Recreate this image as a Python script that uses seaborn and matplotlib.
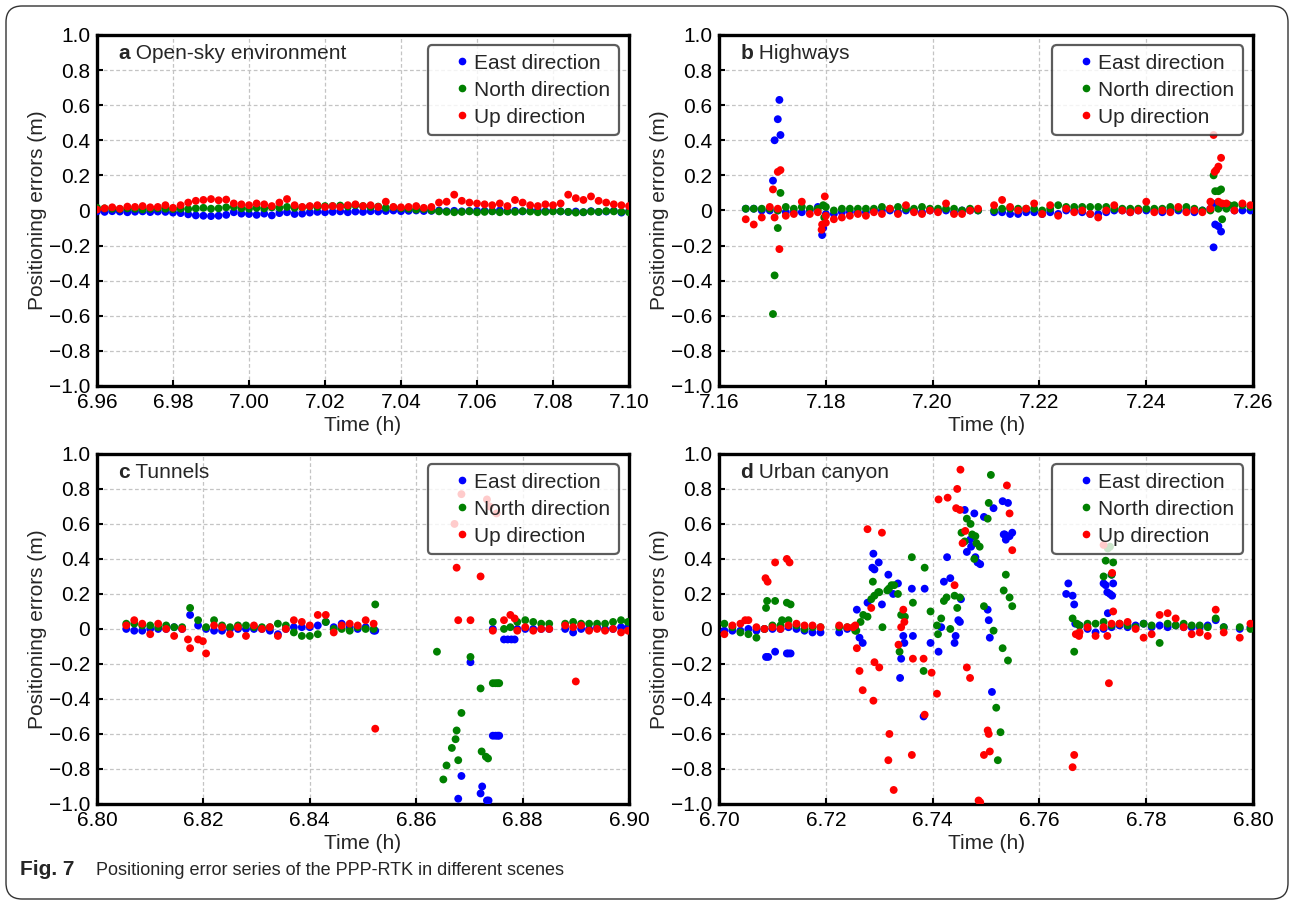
import pandas as pd
import seaborn as sns
import matplotlib.pyplot as plt
from matplotlib.lines import Line2D
from matplotlib.patches import FancyBboxPatch

sns.set_style('white')
plt.rcParams['font.family'] = ['Liberation Sans', 'DejaVu Sans']

DIRECTIONS = ['East direction', 'North direction', 'Up direction']
COLORS = {'East direction': '#0000ff', 'North direction': '#008000', 'Up direction': '#ff0000'}

YTICKS = [-1.0, -0.8, -0.6, -0.4, -0.2, 0.0, 0.2, 0.4, 0.6, 0.8, 1.0]
YTICKLABELS = ['\u22121.0', '\u22120.8', '\u22120.6', '\u22120.4', '\u22120.2', '0',
               '0.2', '0.4', '0.6', '0.8', '1.0']

# ---- a: open-sky environment ----
A_XTICKS = [6.96, 6.98, 7.00, 7.02, 7.04, 7.06, 7.08, 7.10]
A_T = [6.960, 6.962, 6.964, 6.966, 6.968, 6.970, 6.972, 6.974, 6.976, 6.978, 6.980,
       6.982, 6.984, 6.986, 6.988, 6.990, 6.992, 6.994, 6.996, 6.998,
       7.000, 7.002, 7.004, 7.006, 7.008, 7.010, 7.012, 7.014, 7.016, 7.018, 7.020,
       7.022, 7.024, 7.026, 7.028, 7.030, 7.032, 7.034, 7.036, 7.038, 7.040,
       7.042, 7.044, 7.046, 7.048, 7.050, 7.052, 7.054, 7.056, 7.058, 7.060,
       7.062, 7.064, 7.066, 7.068, 7.070, 7.072, 7.074, 7.076, 7.078, 7.080,
       7.082, 7.084, 7.086, 7.088, 7.090, 7.092, 7.094, 7.096, 7.098, 7.100]
A_E = [-0.005, -0.008, -0.004, -0.006, -0.010, -0.007, -0.005, -0.009, -0.006, -0.008, -0.012,
       -0.015, -0.022, -0.028, -0.030, -0.032, -0.030, -0.025, -0.010, -0.018,
       -0.020, -0.025, -0.018, -0.028, -0.015, -0.010, -0.020, -0.018, -0.012, -0.008, -0.010,
       -0.008, -0.005, -0.010, -0.006, -0.008, -0.004, -0.006, -0.003, 0.000, -0.004,
       -0.002, 0.000, -0.003, -0.002, 0.000, -0.004, -0.002, -0.005, -0.003, -0.002,
       -0.002, -0.004, 0.000, -0.003, -0.002, -0.005, -0.002, 0.000, -0.004, -0.003,
       -0.005, -0.008, -0.006, -0.010, -0.004, -0.008, -0.006, -0.002, -0.012, -0.005]
A_N = [0.015, 0.012, 0.010, 0.008, 0.012, 0.010, 0.006, 0.009, 0.012, 0.010, 0.008,
       0.010, 0.008, 0.012, 0.015, 0.010, 0.012, 0.018, 0.020, 0.012,
       0.010, 0.015, 0.012, 0.018, 0.015, 0.020, 0.015, 0.018, 0.022, 0.020, 0.025,
       0.025, 0.028, 0.022, 0.030, 0.025, 0.020, 0.022, 0.015, 0.018, 0.012,
       0.010, 0.005, 0.008, 0.000, -0.005, -0.008, -0.010, -0.008, -0.005, -0.010,
       -0.008, -0.005, -0.010, -0.006, -0.008, -0.004, -0.006, -0.010, -0.008, -0.005,
       -0.005, -0.008, -0.012, -0.010, -0.006, -0.008, -0.004, -0.005, -0.008, -0.010]
A_U = [0.005, 0.012, 0.018, 0.010, 0.022, 0.020, 0.025, 0.018, 0.020, 0.030, 0.015,
       0.030, 0.045, 0.055, 0.060, 0.065, 0.058, 0.062, 0.040, 0.035,
       0.030, 0.040, 0.035, 0.025, 0.045, 0.065, 0.030, 0.020, 0.025, 0.030, 0.020,
       0.025, 0.020, 0.030, 0.035, 0.025, 0.030, 0.020, 0.050, 0.020, 0.018,
       0.020, 0.025, 0.015, 0.020, 0.045, 0.050, 0.090, 0.055, 0.045, 0.040,
       0.035, 0.030, 0.040, 0.025, 0.060, 0.045, 0.030, 0.025, 0.035, 0.030,
       0.040, 0.090, 0.070, 0.060, 0.080, 0.055, 0.045, 0.035, 0.030, 0.025]

# ---- b: highways ----
B_XTICKS = [7.16, 7.18, 7.20, 7.22, 7.24, 7.26]
B_T = [7.1650, 7.1665, 7.1680, 7.1695, 7.1710, 7.1725, 7.1740, 7.1755, 7.1770, 7.1785,
       7.1800, 7.1815, 7.1830, 7.1845, 7.1860, 7.1875, 7.1890, 7.1905, 7.1920, 7.1935,
       7.1950, 7.1965, 7.1980, 7.1995, 7.2010, 7.2025, 7.2040, 7.2055, 7.2070, 7.2085,
       7.2115, 7.2130, 7.2145, 7.2160, 7.2175, 7.2190, 7.2205, 7.2220, 7.2235, 7.2250,
       7.2265, 7.2280, 7.2295, 7.2310, 7.2325, 7.2340, 7.2355, 7.2370, 7.2385, 7.2400,
       7.2415, 7.2430, 7.2445, 7.2460, 7.2475, 7.2490, 7.2505, 7.2520, 7.2535, 7.2550,
       7.2565, 7.2580, 7.2595]
B_E = [0.01, 0.01, 0.00, 0.00, 0.00, -0.01, -0.01, -0.01, 0.00, 0.02,
       -0.02, -0.02, -0.01, -0.01, -0.01, -0.01, 0.00, 0.00, 0.00, -0.01,
       0.00, 0.00, -0.01, 0.00, 0.00, 0.00, -0.01, 0.00, 0.00, 0.00,
       -0.01, -0.01, -0.02, -0.02, -0.01, -0.01, -0.02, -0.01, -0.02, 0.00,
       0.00, -0.01, -0.02, -0.02, -0.01, 0.00, 0.00, -0.01, 0.00, 0.00,
       0.00, -0.01, 0.00, 0.00, 0.00, -0.01, 0.00, 0.01, 0.02, 0.03,
       0.00, 0.00, 0.00]
B_N = [0.01, 0.01, 0.01, 0.01, 0.00, 0.02, 0.01, 0.02, 0.01, 0.01,
       0.02, 0.00, 0.01, 0.01, 0.01, 0.01, 0.01, 0.02, 0.01, 0.02,
       0.01, 0.01, 0.02, 0.01, 0.01, 0.01, 0.01, 0.00, 0.01, 0.00,
       0.00, 0.01, 0.01, 0.01, 0.01, 0.01, 0.00, 0.01, 0.03, 0.02,
       0.02, 0.02, 0.02, 0.02, 0.02, 0.01, 0.01, 0.01, 0.01, 0.01,
       0.01, 0.01, 0.02, 0.01, 0.02, 0.01, 0.00, 0.00, 0.01, 0.01,
       0.03, 0.03, 0.02]
B_U = [-0.05, -0.08, -0.04, 0.02, 0.01, -0.03, -0.02, 0.05, -0.02, -0.01,
       -0.03, -0.05, -0.04, -0.03, -0.02, -0.03, -0.01, -0.02, 0.01, -0.02,
       0.03, -0.01, -0.02, 0.00, -0.01, 0.04, -0.02, -0.02, 0.00, 0.01,
       0.03, 0.06, 0.02, 0.00, 0.01, 0.04, -0.02, 0.03, -0.03, 0.01,
       -0.01, 0.00, -0.02, -0.04, 0.00, 0.03, 0.00, -0.01, 0.00, 0.05,
       -0.01, 0.00, -0.01, 0.02, -0.01, 0.00, -0.01, 0.01, 0.05, 0.04,
       0.00, 0.04, 0.03]
B_E_OUT = [(7.1701, 0.17), (7.1704, 0.40), (7.1710, 0.52), (7.1713, 0.63), (7.1715, 0.43),
           (7.1793, -0.14), (7.1795, -0.10), (7.2524, 0.04), (7.2526, -0.21), (7.2529, -0.08),
           (7.2535, -0.09), (7.2540, -0.12), (7.2542, 0.03)]
B_N_OUT = [(7.1715, 0.10), (7.1710, -0.10), (7.1704, -0.37), (7.1701, -0.59), (7.1797, -0.04),
           (7.1795, 0.03), (7.2526, 0.20), (7.2529, 0.11), (7.2535, 0.11), (7.2540, 0.12),
           (7.2542, -0.05), (7.2555, 0.03)]
B_U_OUT = [(7.1710, 0.22), (7.1715, 0.23), (7.1701, 0.12), (7.1704, -0.04), (7.1713, -0.22),
           (7.1792, -0.11), (7.1793, -0.08), (7.1798, 0.08), (7.1800, -0.07), (7.2526, 0.43),
           (7.2540, 0.30), (7.2535, 0.25), (7.2531, 0.23), (7.2528, 0.22), (7.2520, 0.05),
           (7.2542, 0.04)]

# ---- c: tunnels ----
C_XTICKS = [6.80, 6.82, 6.84, 6.86, 6.88, 6.90]
C_T = [6.8055, 6.8070, 6.8085, 6.8100, 6.8115, 6.8130, 6.8145, 6.8160, 6.8175, 6.8190,
       6.8205, 6.8220, 6.8235, 6.8250, 6.8265, 6.8280, 6.8295, 6.8310, 6.8325, 6.8340,
       6.8355, 6.8370, 6.8385, 6.8400, 6.8415, 6.8430, 6.8445, 6.8460, 6.8475, 6.8490,
       6.8505, 6.8520,
       6.8790, 6.8805, 6.8820, 6.8835, 6.8850, 6.8880, 6.8895, 6.8910, 6.8925, 6.8940,
       6.8955, 6.8970, 6.8985, 6.8998]
C_E = [0.00, -0.01, -0.01, 0.00, 0.00, 0.00, 0.01, 0.00, 0.08, 0.02,
       0.00, -0.01, -0.01, 0.00, 0.00, 0.00, 0.00, 0.00, -0.01, -0.03,
       0.00, 0.01, 0.01, 0.01, 0.02, 0.04, 0.01, 0.03, 0.01, 0.00,
       0.01, -0.01,
       0.00, 0.00, 0.00, 0.00, 0.00, 0.00, -0.02, 0.00, 0.00, 0.01,
       0.00, 0.00, 0.01, 0.01]
C_N = [0.03, 0.03, 0.02, 0.02, 0.01, 0.02, 0.01, 0.01, 0.12, 0.05,
       0.01, 0.05, 0.02, 0.01, 0.02, 0.02, 0.01, 0.01, 0.01, 0.03,
       0.02, -0.02, -0.04, -0.04, -0.03, 0.04, 0.00, 0.00, -0.01, 0.01,
       0.00, 0.00,
       0.04, 0.05, 0.04, 0.03, 0.03, 0.03, 0.04, 0.03, 0.03, 0.03,
       0.03, 0.04, 0.05, 0.04]
C_U = [0.02, 0.05, 0.03, -0.03, 0.03, 0.00, -0.04, 0.00, -0.11, -0.06,
       -0.14, 0.02, 0.01, -0.03, 0.01, -0.04, 0.02, 0.00, 0.01, -0.04,
       0.00, 0.05, 0.04, 0.02, 0.08, 0.08, -0.02, 0.02, 0.03, 0.02,
       0.05, 0.03,
       -0.01, 0.01, -0.01, 0.00, 0.00, 0.02, 0.01, 0.02, -0.01, 0.00,
       -0.01, 0.00, -0.02, -0.01]
C_E_OUT = [(6.8679, -0.97), (6.8685, -0.84), (6.8702, -0.19), (6.8721, -0.94), (6.8724, -0.90),
           (6.8733, -0.98), (6.8736, -0.98), (6.8744, -0.61), (6.8749, -0.61), (6.8753, -0.61),
           (6.8756, -0.61), (6.8744, 0.00), (6.8765, -0.06), (6.8772, -0.06), (6.8779, -0.06),
           (6.8785, -0.06), (6.8523, -0.01)]
C_N_OUT = [(6.8639, -0.13), (6.8651, -0.86), (6.8657, -0.78), (6.8667, -0.68), (6.8674, -0.63),
           (6.8676, -0.58), (6.8679, -0.75), (6.8685, -0.48), (6.8702, -0.16), (6.8721, -0.34),
           (6.8723, -0.70), (6.8731, -0.73), (6.8735, -0.74), (6.8744, -0.31), (6.8749, -0.31),
           (6.8753, -0.31), (6.8756, -0.31), (6.8744, 0.04), (6.8765, 0.00), (6.8777, 0.01),
           (6.8523, 0.14)]
C_U_OUT = [(6.8523, -0.57), (6.8676, 0.35), (6.8679, 0.05), (6.8702, 0.05), (6.8721, 0.30),
           (6.8685, 0.77), (6.8672, 0.60), (6.8733, 0.74), (6.8738, 0.70), (6.8751, 0.66),
           (6.8744, -0.01), (6.8765, 0.05), (6.8777, 0.08), (6.8785, 0.06), (6.8900, -0.30),
           (6.8171, -0.06), (6.8199, -0.07)]

# ---- d: urban canyon ----
D_XTICKS = [6.70, 6.72, 6.74, 6.76, 6.78, 6.80]
D_T = [6.7010, 6.7025, 6.7040, 6.7055, 6.7070, 6.7085, 6.7100, 6.7115, 6.7130, 6.7145,
       6.7160, 6.7175, 6.7190, 6.7225, 6.7240, 6.7255,
       6.7675, 6.7690, 6.7705, 6.7720, 6.7735, 6.7750, 6.7765, 6.7780, 6.7795, 6.7810,
       6.7825, 6.7840, 6.7855, 6.7870, 6.7885, 6.7900, 6.7915, 6.7930, 6.7945, 6.7975,
       6.7995]
D_E = [-0.01, -0.01, -0.01, 0.00, -0.01, 0.00, 0.00, 0.00, 0.01, 0.00,
       -0.01, -0.02, -0.02, -0.02, 0.00, 0.00,
       0.02, 0.00, -0.02, 0.00, 0.01, 0.02, 0.01, 0.02, 0.03, 0.01,
       0.02, 0.01, 0.02, 0.01, 0.01, 0.01, 0.02, 0.05, 0.01, 0.00,
       0.01]
D_N = [0.03, 0.01, -0.02, -0.03, -0.05, 0.00, 0.02, 0.02, 0.05, 0.02,
       0.00, 0.01, 0.01, 0.01, 0.01, -0.01,
       0.02, 0.03, 0.03, 0.04, 0.02, 0.03, 0.02, 0.01, 0.03, 0.02,
       -0.08, 0.03, 0.02, 0.03, 0.02, 0.02, 0.01, 0.06, 0.01, 0.01,
       0.00]
D_U = [-0.03, 0.02, 0.03, 0.05, 0.01, 0.00, 0.01, 0.00, 0.02, 0.03,
       0.02, 0.02, 0.01, 0.02, 0.01, 0.02,
       -0.02, 0.01, -0.04, 0.01, 0.03, 0.03, 0.04, 0.00, -0.05, -0.03,
       0.08, 0.09, 0.06, 0.01, -0.03, -0.02, -0.04, 0.11, -0.02, -0.05,
       0.03]
D_E_OUT = [(6.7088, -0.16), (6.7092, -0.16), (6.7105, -0.13), (6.7127, -0.14), (6.7130, -0.14),
           (6.7134, -0.14), (6.7258, 0.11), (6.7263, -0.05), (6.7269, -0.08), (6.7278, 0.15),
           (6.7287, 0.35), (6.7289, 0.43), (6.7291, 0.34), (6.7299, 0.38), (6.7305, 0.14),
           (6.7317, 0.31), (6.7326, 0.20), (6.7335, 0.26), (6.7339, -0.28), (6.7341, -0.17),
           (6.7345, -0.04), (6.7347, -0.08), (6.7361, 0.23), (6.7363, -0.04), (6.7385, 0.23),
           (6.7383, -0.50), (6.7396, -0.08), (6.7411, -0.13), (6.7416, 0.01), (6.7421, 0.27),
           (6.7427, 0.41), (6.7433, 0.29), (6.7441, -0.08), (6.7443, -0.04), (6.7448, 0.05),
           (6.7451, 0.04), (6.7453, 0.17), (6.7460, 0.68), (6.7464, 0.44), (6.7470, 0.51),
           (6.7472, 0.47), (6.7478, 0.66), (6.7480, 0.41), (6.7484, 0.38), (6.7489, 0.37),
           (6.7496, 0.64), (6.7503, 0.11), (6.7505, 0.05), (6.7507, -0.05), (6.7511, -0.36),
           (6.7514, 0.69), (6.7531, 0.73), (6.7533, 0.54), (6.7537, 0.51), (6.7541, 0.72),
           (6.7544, 0.53), (6.7549, 0.55), (6.7535, 0.54),
           (6.7650, 0.20), (6.7654, 0.26), (6.7662, 0.19), (6.7665, 0.14), (6.7667, 0.03),
           (6.7720, 0.26), (6.7724, 0.25), (6.7727, 0.21), (6.7732, 0.20), (6.7736, 0.19),
           (6.7738, 0.26), (6.7735, 0.31), (6.7728, 0.09)]
D_N_OUT = [(6.7088, 0.12), (6.7090, 0.16), (6.7105, 0.16), (6.7127, 0.15), (6.7134, 0.14),
           (6.7118, 0.05), (6.7257, -0.01), (6.7265, 0.04), (6.7270, 0.08), (6.7278, 0.07),
           (6.7285, 0.17), (6.7288, 0.27), (6.7291, 0.19), (6.7298, 0.21), (6.7300, 0.21),
           (6.7306, 0.01), (6.7315, 0.22), (6.7318, 0.23), (6.7323, 0.25), (6.7328, 0.25),
           (6.7335, 0.20), (6.7338, -0.13), (6.7341, 0.08), (6.7348, 0.07), (6.7361, 0.41),
           (6.7363, 0.15), (6.7383, -0.24), (6.7385, 0.35), (6.7396, 0.10), (6.7408, 0.02),
           (6.7410, -0.03), (6.7416, 0.06), (6.7421, 0.16), (6.7426, 0.18), (6.7433, 0.00),
           (6.7441, 0.19), (6.7446, 0.12), (6.7451, 0.18), (6.7454, 0.55), (6.7460, 0.50),
           (6.7464, 0.63), (6.7471, 0.60), (6.7474, 0.54), (6.7480, 0.53), (6.7482, 0.49),
           (6.7488, 0.47), (6.7478, 0.40), (6.7496, 0.13), (6.7503, 0.63), (6.7505, 0.72),
           (6.7509, 0.88), (6.7514, -0.01), (6.7519, -0.45), (6.7522, -0.75), (6.7527, -0.59),
           (6.7531, -0.11), (6.7533, 0.22), (6.7537, 0.31), (6.7544, 0.18), (6.7541, -0.18),
           (6.7549, 0.13),
           (6.7662, 0.06), (6.7665, -0.13), (6.7670, 0.03),
           (6.7720, 0.30), (6.7724, 0.39), (6.7728, 0.46), (6.7732, 0.47), (6.7738, 0.38),
           (6.7735, 0.31)]
D_U_OUT = [(6.7087, 0.29), (6.7091, 0.27), (6.7105, 0.38), (6.7127, 0.40), (6.7132, 0.38),
           (6.7049, 0.05), (6.7251, 0.01), (6.7258, -0.11), (6.7263, -0.24), (6.7269, -0.35),
           (6.7285, 0.12), (6.7278, 0.57), (6.7289, -0.41), (6.7291, -0.19), (6.7300, -0.22),
           (6.7305, 0.55), (6.7317, -0.75), (6.7319, -0.60), (6.7327, -0.92), (6.7336, -0.09),
           (6.7341, 0.01), (6.7345, 0.11), (6.7347, 0.04), (6.7361, -0.72), (6.7363, -0.17),
           (6.7383, -0.17), (6.7385, -0.49), (6.7398, -0.25), (6.7408, -0.37), (6.7411, 0.74),
           (6.7428, 0.75), (6.7441, 0.25), (6.7446, 0.80), (6.7444, 0.69), (6.7451, 0.68),
           (6.7452, 0.91), (6.7456, 0.49), (6.7461, 0.56), (6.7464, -0.22), (6.7470, -0.28),
           (6.7486, -0.98), (6.7489, -0.99), (6.7496, -0.72), (6.7503, -0.58), (6.7505, -0.60),
           (6.7507, -0.70), (6.7539, 0.82), (6.7544, 0.66), (6.7549, 0.45),
           (6.7665, -0.72), (6.7662, -0.79), (6.7668, -0.03), (6.7674, -0.04),
           (6.7720, 0.48), (6.7736, 0.32), (6.7738, 0.10), (6.7730, -0.31), (6.7727, -0.04)]


def panel_frame(times, east, north, up, east_out=(), north_out=(), up_out=()):
    parts = []
    for name, vals, out in zip(DIRECTIONS, (east, north, up), (east_out, north_out, up_out)):
        t = list(times) + [p[0] for p in out]
        v = list(vals) + [p[1] for p in out]
        parts.append(pd.DataFrame({'time': t, 'error': v, 'direction': name}))
    return pd.concat(parts, ignore_index=True)


def draw_panel(ax, df, xticks, letter, title):
    sns.scatterplot(data=df, x='time', y='error', hue='direction', palette=COLORS,
                    hue_order=DIRECTIONS, s=32, linewidth=0, legend=False, ax=ax, zorder=3)
    ax.set_xlim(xticks[0], xticks[-1])
    ax.set_ylim(-1, 1)
    ax.set_xticks(xticks)
    ax.set_xticklabels([f'{x:.2f}' for x in xticks])
    ax.set_yticks(YTICKS)
    ax.set_yticklabels(YTICKLABELS)
    ax.tick_params(direction='in', length=4, width=1.5, labelsize=15, pad=5,
                   bottom=True, left=True, colors='black')
    ax.grid(True, color='#c4c4c4', linestyle=(0, (3, 2)), linewidth=0.9)
    ax.set_axisbelow(True)
    for s in ax.spines.values():
        s.set_linewidth(2.4)
        s.set_color('black')
    ax.set_xlabel('Time (h)', fontsize=15, labelpad=3)
    ax.set_ylabel('Positioning errors (m)', fontsize=15, labelpad=1)

    t1 = ax.text(0.04, 0.975, letter, transform=ax.transAxes, fontsize=15,
                 fontweight='bold', va='top', ha='left', zorder=6)
    ax.annotate(' ' + title, xy=(1, 0), xycoords=t1, fontsize=15, va='bottom', ha='left',
                zorder=6)

    handles = [Line2D([], [], marker='o', ls='', color=COLORS[d], markersize=4.5)
               for d in DIRECTIONS]
    leg = ax.legend(handles, DIRECTIONS, loc='upper right', fontsize=15, frameon=True,
                    fancybox=True, framealpha=0.8, edgecolor='#333333',
                    borderpad=0.4, labelspacing=0.38, handlelength=2.4,
                    handletextpad=-0.6, borderaxespad=0.5)
    leg.get_frame().set_linewidth(1.6)
    leg.set_zorder(5)


fig = plt.figure(figsize=(12.9, 9.01), dpi=100)
ax_a = fig.add_axes([0.0752, 0.5716, 0.4124, 0.3896])
ax_b = fig.add_axes([0.5574, 0.5716, 0.4140, 0.3896])
ax_c = fig.add_axes([0.0752, 0.1077, 0.4124, 0.3885])
ax_d = fig.add_axes([0.5574, 0.1077, 0.4140, 0.3885])

draw_panel(ax_a, panel_frame(A_T, A_E, A_N, A_U), A_XTICKS, 'a', 'Open-sky environment')
draw_panel(ax_b, panel_frame(B_T, B_E, B_N, B_U, B_E_OUT, B_N_OUT, B_U_OUT),
           B_XTICKS, 'b', 'Highways')
draw_panel(ax_c, panel_frame(C_T, C_E, C_N, C_U, C_E_OUT, C_N_OUT, C_U_OUT),
           C_XTICKS, 'c', 'Tunnels')
draw_panel(ax_d, panel_frame(D_T, D_E, D_N, D_U, D_E_OUT, D_N_OUT, D_U_OUT),
           D_XTICKS, 'd', 'Urban canyon')

# caption
fig.text(20 / 1290, 1 - 875 / 901, 'Fig. 7', fontsize=15, fontweight='bold', va='baseline')
fig.text(96 / 1290, 1 - 875 / 901, 'Positioning error series of the PPP-RTK in different scenes',
         fontsize=13, va='baseline')

# rounded outer frame
fig.patches.append(FancyBboxPatch((6, 2), 1282, 893, boxstyle='round,pad=0,rounding_size=16',
                                  transform=None, facecolor='none', edgecolor='#333333',
                                  linewidth=1.0))

fig.savefig('out.png', dpi=100)
